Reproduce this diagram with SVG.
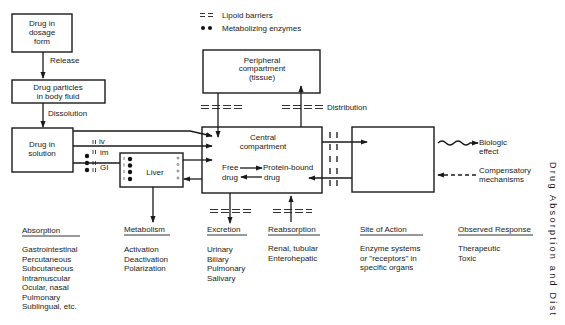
<svg xmlns="http://www.w3.org/2000/svg" width="565" height="325" viewBox="0 0 565 325">
<defs>
<style>
text{font-family:"Liberation Sans",Arial,sans-serif;font-size:8px;fill:#1a1a1a}
.c{text-anchor:middle}
.box{fill:#fff;stroke:#1a1a1a;stroke-width:1.4}
.ln{fill:none;stroke:#1a1a1a;stroke-width:1.3}
.bar{fill:none;stroke:#333;stroke-width:1.2;stroke-dasharray:8 3}
.vb{fill:none;stroke:#333;stroke-width:1.5;stroke-dasharray:6 6}
.ul{stroke:#333;stroke-width:1}
.dot{fill:#111}
</style>
<marker id="ah" viewBox="0 0 8 6" refX="7" refY="3" markerWidth="7" markerHeight="5.5" markerUnits="userSpaceOnUse" orient="auto">
<path d="M0,0 L8,3 L0,6 z" fill="#1a1a1a"/>
</marker>
</defs>
<rect width="565" height="325" fill="#fff"/>

<g id="legend">
<line class="ul" x1="200" y1="13.5" x2="213" y2="13.5" stroke-dasharray="5 3"/>
<line class="ul" x1="200" y1="16.5" x2="213" y2="16.5" stroke-dasharray="5 3"/>
<text x="222" y="18">Lipoid barriers</text>
<circle class="dot" cx="203" cy="28" r="2"/>
<circle class="dot" cx="210" cy="28" r="2"/>
<text x="222" y="31">Metabolizing enzymes</text>
</g>

<g id="dosage">
<rect class="box" x="12" y="14" width="60" height="38"/>
<text class="c" x="42" y="26">Drug in</text>
<text class="c" x="42" y="35">dosage</text>
<text class="c" x="42" y="44">form</text>
</g>

<g id="particles">
<rect class="box" x="12" y="80" width="93" height="23"/>
<text class="c" x="58" y="90">Drug particles</text>
<text class="c" x="58" y="99">in body fluid</text>
</g>

<g id="solution">
<rect class="box" x="12" y="128" width="61" height="44"/>
<text class="c" x="42" y="147">Drug in</text>
<text class="c" x="42" y="156">solution</text>
</g>

<g id="liver">
<rect class="box" x="120" y="153" width="63" height="34"/>
<circle class="dot" cx="130" cy="159" r="2.2"/>
<circle class="dot" cx="130" cy="165.5" r="2.2"/>
<circle class="dot" cx="130" cy="172" r="2.2"/>
<circle class="dot" cx="130" cy="179" r="2.2"/>
<g stroke="#555" stroke-width="0.8">
<line x1="124" y1="157" x2="124" y2="160"/>
<line x1="124" y1="163.5" x2="124" y2="166.5"/>
<line x1="124" y1="170" x2="124" y2="173"/>
<line x1="124" y1="177" x2="124" y2="180"/>
</g>
<g fill="none" stroke="#555" stroke-width="0.7">
<circle cx="178" cy="158" r="1"/>
<circle cx="178" cy="164.5" r="1"/>
<circle cx="178" cy="171" r="1"/>
<circle cx="178" cy="178" r="1"/>
</g>
<text class="c" x="155" y="175">Liver</text>
</g>

<g id="peripheral">
<rect class="box" x="203" y="50" width="117" height="43"/>
<text class="c" x="262" y="63">Peripheral</text>
<text class="c" x="262" y="71">compartment</text>
<text class="c" x="262" y="80">(tissue)</text>
</g>

<g id="central">
<rect class="box" x="202" y="127" width="120" height="66"/>
<text class="c" x="263" y="140">Central</text>
<text class="c" x="263" y="149">compartment</text>
<text x="222" y="170">Free</text>
<text x="222" y="180">drug</text>
<text x="263" y="170">Protein-bound</text>
<text x="264" y="180">drug</text>
</g>

<g id="site">
<rect class="box" x="352" y="127" width="82" height="65"/>
</g>

<g id="barriers">
<line class="bar" x1="201" y1="105.5" x2="242" y2="105.5"/>
<line class="bar" x1="201" y1="108.5" x2="242" y2="108.5"/>
<line class="bar" x1="282" y1="105.5" x2="323" y2="105.5"/>
<line class="bar" x1="282" y1="108.5" x2="323" y2="108.5"/>
<text x="327" y="110">Distribution</text>
<line class="bar" x1="210" y1="209.5" x2="252" y2="209.5"/>
<line class="bar" x1="210" y1="212.5" x2="252" y2="212.5"/>
<line class="bar" x1="273" y1="209.5" x2="312" y2="209.5"/>
<line class="bar" x1="273" y1="212.5" x2="312" y2="212.5"/>
<line class="vb" x1="330" y1="132" x2="330" y2="188"/>
<line class="vb" x1="337" y1="132" x2="337" y2="188"/>
<circle class="dot" cx="87" cy="156" r="2.2"/>
<circle class="dot" cx="87" cy="163" r="2.2"/>
<circle class="dot" cx="87" cy="170" r="2.2"/>
<g stroke="#333" stroke-width="0.9">
<line x1="93" y1="140" x2="93" y2="144"/><line x1="95.5" y1="140" x2="95.5" y2="144"/>
<line x1="93" y1="150" x2="93" y2="154"/><line x1="95.5" y1="150" x2="95.5" y2="154"/>
<line x1="93" y1="161" x2="93" y2="165"/><line x1="95.5" y1="161" x2="95.5" y2="165"/>
<line x1="93" y1="168" x2="93" y2="172"/><line x1="95.5" y1="168" x2="95.5" y2="172"/>
</g>
<text x="99" y="144">iv</text>
<text x="100" y="155">im</text>
<text x="100" y="170">GI</text>
</g>

<g id="connectors">
<path class="ln" d="M43,52 V78" marker-end="url(#ah)"/>
<text x="50" y="63">Release</text>
<path class="ln" d="M43,103 V127" marker-end="url(#ah)"/>
<text x="48" y="116">Dissolution</text>
<path class="ln" d="M73,131 H190 L212,136" marker-end="url(#ah)"/>
<path class="ln" d="M73,146 H212" marker-end="url(#ah)"/>
<path class="ln" d="M73,163 H120"/>
<path class="ln" d="M183,160 H212" marker-end="url(#ah)"/>
<path class="ln" d="M202,179 H184" marker-end="url(#ah)"/>
<path class="ln" d="M153,187 V222" marker-end="url(#ah)"/>
<path class="ln" d="M218,93 V137" marker-end="url(#ah)"/>
<path class="ln" d="M301,127 V86" marker-end="url(#ah)"/>
<path class="ln" d="M230,193 V223" marker-end="url(#ah)"/>
<path class="ln" d="M291,222 V196" marker-end="url(#ah)"/>
<path class="ln" d="M240,168 H262" marker-end="url(#ah)"/>
<path class="ln" d="M262,177 H241" marker-end="url(#ah)"/>
<path class="ln" d="M322,142 H367" marker-end="url(#ah)"/>
<path class="ln" d="M352,178 H309" marker-end="url(#ah)"/>
<path class="ln" d="M438,143 q4,-4 8,0 t8,0 t8,0 t8,0 L478,143" marker-end="url(#ah)"/>
<path class="ln" d="M476,175 H438" stroke-dasharray="4 3" marker-end="url(#ah)"/>
</g>

<g id="effects">
<text x="479" y="145">Biologic</text>
<text x="479" y="154">effect</text>
<text x="479" y="173">Compensatory</text>
<text x="479" y="182">mechanisms</text>
</g>

<g id="absorption">
<text x="22" y="233">Absorption</text>
<line class="ul" x1="22" y1="236" x2="80" y2="236"/>
<text x="22" y="252">Gastrointestinal</text>
<text x="22" y="261.5">Percutaneous</text>
<text x="22" y="271">Subcutaneous</text>
<text x="22" y="280.5">Intramuscular</text>
<text x="22" y="290">Ocular, nasal</text>
<text x="22" y="299.5">Pulmonary</text>
<text x="22" y="309">Sublingual, etc.</text>
</g>

<g id="metabolism">
<text x="124" y="232">Metabolism</text>
<line class="ul" x1="124" y1="235" x2="170" y2="235"/>
<text x="124" y="252">Activation</text>
<text x="124" y="261.5">Deactivation</text>
<text x="124" y="271">Polarization</text>
</g>

<g id="excretion">
<text x="207" y="232">Excretion</text>
<line class="ul" x1="207" y1="235" x2="247" y2="235"/>
<text x="207" y="252">Urinary</text>
<text x="207" y="261.5">Biliary</text>
<text x="207" y="271">Pulmonary</text>
<text x="207" y="280.5">Salivary</text>
</g>

<g id="reabsorption">
<text x="268" y="232">Reabsorption</text>
<line class="ul" x1="268" y1="235" x2="320" y2="235"/>
<text x="268" y="251">Renal, tubular</text>
<text x="268" y="260.5">Enterohepatic</text>
</g>

<g id="siteofaction">
<text x="360" y="232">Site of Action</text>
<line class="ul" x1="360" y1="235" x2="423" y2="235"/>
<text x="360" y="251">Enzyme systems</text>
<text x="360" y="260.5">or "receptors" in</text>
<text x="360" y="270">specific organs</text>
</g>

<g id="response">
<text x="458" y="232">Observed Response</text>
<line class="ul" x1="458" y1="235" x2="533" y2="235"/>
<text x="458" y="251">Therapeutic</text>
<text x="458" y="260.5">Toxic</text>
</g>

<text x="550" y="162" transform="rotate(90 550 162)" style="font-size:9px;letter-spacing:2.3px">Drug Absorption and Dist</text>
</svg>
